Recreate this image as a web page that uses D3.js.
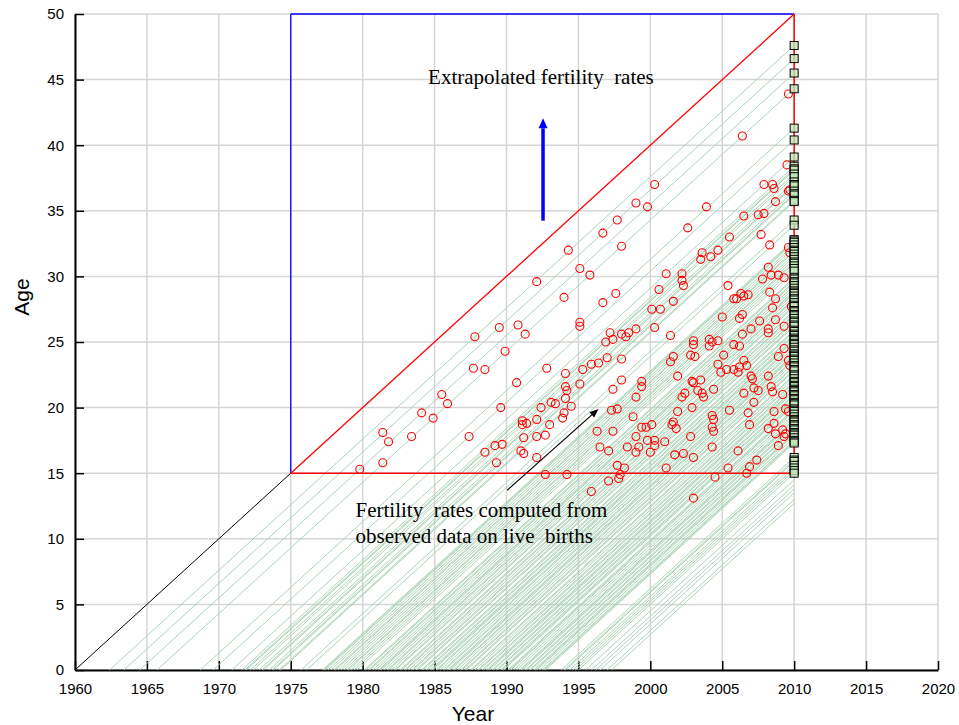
<!DOCTYPE html>
<html>
<head>
<meta charset="utf-8">
<script src="https://cdn.jsdelivr.net/npm/d3@7"></script>
<style>
body { margin: 0; background: #fff; }
svg { display: block; }
</style>
</head>
<body>
<script>

var yearTicks = [1960, 1965, 1970, 1975, 1980, 1985, 1990, 1995, 2000, 2005, 2010, 2015, 2020];
var ageTicks = [0, 5, 10, 15, 20, 25, 30, 35, 40, 45, 50];

// age of each woman in 2010 (end of her lifeline)
var ageIn2010 = [47.6, 46.6, 45.5, 44.3, 41.3, 40.4, 39.1, 38.4, 38.2, 38.1, 37.8, 37.6, 37.2, 37.0, 36.9,
    36.5, 36.3, 36.2, 35.8, 35.7, 34.3, 33.9, 32.8, 32.7, 32.6, 32.4, 32.2, 32.0, 31.9, 31.7, 31.5, 31.3,
    31.1, 31.0, 30.8, 30.6, 30.4, 29.9, 29.8, 29.6, 29.5, 29.3, 29.1, 28.9, 28.8, 28.7, 28.5, 28.3, 28.2,
    28.0, 27.8, 27.7, 27.4, 27.3, 27.1, 27.0, 26.8, 26.6, 26.5, 26.3, 26.2, 25.9, 25.8, 25.6, 25.5, 25.3,
    25.2, 25.1, 24.9, 24.8, 24.6, 24.4, 24.3, 24.1, 24.0, 23.9, 23.7, 23.6, 23.4, 23.2, 23.1, 22.9, 22.8,
    22.5, 22.4, 22.2, 22.0, 21.9, 21.7, 21.6, 21.4, 21.3, 21.2, 21.0, 20.9, 20.7, 20.6, 20.4, 20.3, 20.2,
    19.9, 19.8, 19.7, 19.5, 19.3, 19.1, 19.0, 18.9, 18.7, 18.6, 18.4, 18.3, 18.1, 18.0, 17.9, 17.7, 17.5,
    17.4, 17.3, 16.2, 16.0, 15.9, 15.6, 15.4, 15.2, 15.0, 14.5, 14.1, 13.8, 13.5, 13.0, 12.7];

// live births: [year, age of mother]
var births = [
    [1992.1, 29.6], [1994.0, 28.4], [1987.8, 25.4], [1989.5, 26.1], [1990.8, 26.3], [1991.3, 25.6],
    [1989.9, 24.3], [1987.7, 23.0], [1988.5, 22.9], [1992.8, 23.0], [1990.7, 21.9], [1994.1, 22.6],
    [1985.5, 21.0], [1985.9, 20.3], [1984.1, 19.6], [1984.9, 19.2], [1989.6, 20.0], [1981.4, 18.1],
    [1981.8, 17.4], [1983.4, 17.8], [1987.4, 17.8], [1981.4, 15.8], [1979.8, 15.3], [1988.5, 16.6],
    [1989.2, 17.1], [1989.7, 17.2], [1989.3, 15.8], [1991.0, 16.7], [1991.2, 16.5], [1992.1, 16.2],
    [1992.7, 14.9], [1994.2, 14.9], [1991.2, 17.7], [1992.1, 17.8], [1992.7, 17.9], [1993.0, 18.7],
    [1991.1, 19.0], [1991.1, 18.7], [1991.4, 18.8], [1992.1, 19.1], [1992.4, 20.0], [1993.1, 20.4],
    [1993.4, 20.3], [1994.0, 19.6], [1993.9, 19.2], [1994.1, 20.7], [1994.1, 21.6], [1994.2, 21.3],
    [1994.3, 32.0],
    [2000.3, 37.0], [2006.4, 40.7], [2009.6, 43.9], [2009.5, 38.5], [2007.9, 37.0], [2008.5, 37.0],
    [2008.6, 36.7], [2009.7, 36.6],
    [1999.0, 35.6], [1999.8, 35.3], [1997.7, 34.3], [1996.7, 33.3], [1998.0, 32.3], [1995.1, 30.6],
    [1995.8, 30.1], [1996.7, 28.0], [1997.6, 28.7], [2001.1, 30.2], [2000.6, 29.0], [2002.2, 30.2],
    [2002.2, 29.7], [2002.3, 29.3], [2000.1, 27.5], [2000.7, 27.5], [2001.6, 28.1], [1995.1, 26.5],
    [1995.1, 26.2], [1997.2, 25.7], [1998.0, 25.6], [1998.5, 25.7], [1999.0, 26.0], [2000.3, 26.1],
    [2001.4, 25.5],
    [2009.6, 36.5], [2003.9, 35.3], [2008.7, 35.7], [2006.5, 34.6], [2007.5, 34.7], [2007.9, 34.8],
    [2002.6, 33.7], [2005.5, 33.0], [2007.7, 33.2], [2008.3, 32.4], [2009.6, 32.2], [2009.7, 31.8],
    [2003.6, 31.8], [2003.5, 31.3], [2004.2, 31.5], [2004.7, 32.0], [2008.2, 30.7], [2008.4, 30.1],
    [2008.9, 30.1], [2009.3, 29.9], [2007.8, 29.8], [2005.4, 29.3], [2008.3, 28.8], [2008.7, 28.3],
    [2006.3, 28.7], [2005.8, 28.3], [2006.0, 28.3], [2006.5, 28.5], [2006.8, 28.6], [2008.5, 27.6],
    [2009.8, 27.7], [2005.0, 26.9], [2006.4, 27.1], [2006.2, 26.8], [2007.6, 26.6], [2008.7, 26.7],
    [2009.3, 26.2], [2007.0, 26.0], [2008.2, 26.0], [2008.2, 25.7], [2006.4, 25.6],
    [1997.4, 25.2], [1996.9, 25.0], [1998.3, 25.4], [2001.6, 23.9], [2001.4, 23.5], [1997.0, 23.8],
    [1998.0, 23.7], [1995.9, 23.3], [1996.4, 23.4], [1995.3, 22.9], [1995.1, 21.8], [2001.9, 22.4],
    [1998.0, 22.1], [1999.4, 22.0], [1999.4, 21.6], [1997.4, 21.4], [1999.0, 20.8], [2002.2, 20.8],
    [1994.5, 20.1], [1997.3, 19.8], [1997.7, 19.9], [2001.9, 19.7], [1998.8, 19.3], [2001.6, 18.9],
    [2001.5, 18.7], [2001.8, 18.4], [1999.4, 18.5], [1999.7, 18.5], [2000.1, 18.7], [1996.3, 18.2],
    [1997.4, 18.2], [1999.0, 17.8], [1999.8, 17.5], [2000.3, 17.5], [2000.3, 17.1], [2001.0, 17.4],
    [1996.5, 17.0], [1997.1, 16.7], [1998.4, 17.0], [1999.2, 17.0], [1999.0, 16.6], [2000.0, 16.6],
    [2001.7, 16.4], [1997.7, 15.6], [1998.2, 15.4], [2001.1, 15.4], [1997.9, 14.9], [1997.8, 14.6],
    [1997.1, 14.4], [1995.9, 13.6], [2003.0, 13.1],
    [2003.0, 25.1], [2003.0, 24.8], [2004.1, 25.2], [2004.3, 25.0], [2004.1, 24.7], [2004.7, 25.1],
    [2005.8, 24.8], [2006.2, 24.7], [2009.3, 24.5], [2008.9, 23.9], [2002.8, 24.0], [2003.1, 23.9],
    [2005.1, 24.0], [2006.5, 23.6], [2004.7, 23.3], [2005.3, 22.9], [2004.9, 22.7], [2005.8, 22.9],
    [2006.2, 23.1], [2006.7, 23.2], [2006.1, 22.7], [2009.6, 23.6], [2009.7, 23.2], [2007.0, 22.4],
    [2007.1, 22.2], [2008.2, 22.4], [2002.9, 22.0], [2003.0, 21.9], [2003.5, 22.1], [2003.3, 21.3],
    [2003.6, 21.1], [2003.7, 20.8], [2002.4, 21.1], [2004.4, 21.4], [2006.5, 21.1], [2007.2, 21.5],
    [2007.5, 21.3], [2008.4, 21.6], [2008.5, 21.2], [2009.2, 21.0], [2007.2, 20.4], [2002.9, 20.0],
    [2005.5, 19.8], [2006.8, 19.6], [2008.6, 19.7], [2009.4, 19.9], [2009.6, 19.7], [2004.3, 19.4],
    [2004.4, 19.1], [2006.9, 18.7], [2008.6, 18.8], [2004.3, 18.5], [2004.4, 18.2], [2008.2, 18.4],
    [2008.7, 18.0], [2009.2, 18.3], [2009.4, 18.0], [2009.3, 17.8], [2002.8, 17.8], [2004.3, 17.0],
    [2008.9, 17.1], [2006.1, 16.7], [2002.3, 16.5], [2003.0, 16.2], [2007.4, 16.0], [2006.9, 15.5],
    [2006.7, 15.0], [2005.4, 15.4], [2004.5, 14.7]
];

var width = 959, height = 725;

var x = d3.scaleLinear().domain([1960, 2020]).range([75, 938]);
var y = d3.scaleLinear().domain([0, 50]).range([670, 14]);

var svg = d3.select("body").append("svg")
    .attr("width", width)
    .attr("height", height)
    .style("font-family", "'Liberation Sans', Arial, sans-serif");

// grid
var grid = svg.append("g").attr("stroke", "#d6d6d6").attr("stroke-width", 1.5);

grid.selectAll("line.gx")
    .data(yearTicks)
    .join("line")
        .attr("class", "gx")
        .attr("x1", function (d) { return x(d); })
        .attr("x2", function (d) { return x(d); })
        .attr("y1", y(0))
        .attr("y2", y(50));

grid.selectAll("line.gy")
    .data(ageTicks)
    .join("line")
        .attr("class", "gy")
        .attr("x1", x(1960))
        .attr("x2", x(2020))
        .attr("y1", function (d) { return y(d); })
        .attr("y2", function (d) { return y(d); });

// axes
var xAxis = svg.append("g")
    .attr("transform", "translate(0," + y(0) + ")")
    .call(d3.axisBottom(x)
        .tickValues(yearTicks)
        .tickFormat(d3.format("d"))
        .tickSizeInner(-9)
        .tickSizeOuter(0)
        .tickPadding(13));

var yAxis = svg.append("g")
    .attr("transform", "translate(" + x(1960) + ",0)")
    .call(d3.axisLeft(y)
        .tickValues(ageTicks)
        .tickSizeInner(-9)
        .tickSizeOuter(0)
        .tickPadding(11));

[xAxis, yAxis].forEach(function (g) {
    g.select(".domain").attr("stroke", "#000").attr("stroke-width", 2);
    g.selectAll(".tick line").attr("stroke", "#000").attr("stroke-width", 1.5);
    g.selectAll(".tick text")
        .attr("fill", "#000")
        .style("font-size", "15px")
        .style("font-family", "'Liberation Sans', Arial, sans-serif");
});

// lifelines
svg.append("g")
    .selectAll("line")
    .data(ageIn2010)
    .join("line")
        .attr("x1", function (a) { return x(2010 - a); })
        .attr("y1", y(0))
        .attr("x2", x(2010))
        .attr("y2", function (a) { return y(a); })
        .attr("stroke", "#acd5b5")
        .attr("stroke-width", 1);

// observation frame
var seg = function (x1, y1, x2, y2, color, w) {
    svg.append("line")
        .attr("x1", x(x1)).attr("y1", y(y1))
        .attr("x2", x(x2)).attr("y2", y(y2))
        .attr("stroke", color)
        .attr("stroke-width", w);
};

seg(1960, 0, 1975, 15, "#000", 1);
seg(1975, 15, 1975, 50, "#0000ff", 1.3);
seg(1975, 50, 2010, 50, "#0000ff", 1.3);
seg(1975, 15, 2010, 50, "#ff0000", 1.3);
seg(1975, 15, 2010, 15, "#ff0000", 1.5);
seg(2010, 15, 2010, 50, "#ff0000", 1.5);

// births
svg.append("g")
    .selectAll("circle")
    .data(births)
    .join("circle")
        .attr("cx", function (d) { return x(d[0]); })
        .attr("cy", function (d) { return y(d[1]); })
        .attr("r", 4)
        .attr("fill", "none")
        .attr("stroke", "#ff0000")
        .attr("stroke-width", 1.1);

// women still in the frame in 2010
svg.append("g")
    .selectAll("rect")
    .data(ageIn2010.filter(function (a) { return a >= 14.9; }))
    .join("rect")
        .attr("x", x(2010) - 4)
        .attr("y", function (a) { return y(a) - 4; })
        .attr("width", 8)
        .attr("height", 8)
        .attr("fill", "#c2e6b6")
        .attr("fill-opacity", 0.8)
        .attr("stroke", "#000")
        .attr("stroke-width", 1);

// arrows
var arrow = function (x1, y1, x2, y2, color, w, headLen, headW) {
    var px1 = x(x1), py1 = y(y1), px2 = x(x2), py2 = y(y2);
    var dx = px2 - px1, dy = py2 - py1;
    var len = Math.sqrt(dx * dx + dy * dy);
    var ux = dx / len, uy = dy / len;
    var bx = px2 - ux * headLen, by = py2 - uy * headLen;

    svg.append("line")
        .attr("x1", px1).attr("y1", py1)
        .attr("x2", bx).attr("y2", by)
        .attr("stroke", color)
        .attr("stroke-width", w);

    svg.append("path")
        .attr("d", "M" + px2 + "," + py2 +
            "L" + (bx - uy * headW / 2) + "," + (by + ux * headW / 2) +
            "L" + (bx + uy * headW / 2) + "," + (by - ux * headW / 2) + "Z")
        .attr("fill", color);
};

arrow(1992.54, 34.25, 1992.54, 42.05, "#0000ff", 3.5, 10, 9);
arrow(1990.05, 13.7, 1996.4, 19.9, "#000", 1.2, 9, 7);

// annotations
var note = function (lines, xv, yv) {
    var t = svg.append("text")
        .attr("x", x(xv))
        .attr("y", y(yv))
        .attr("fill", "#000")
        .style("font-family", "'Liberation Serif', 'Times New Roman', serif")
        .style("font-size", "21px")
        .style("white-space", "pre");
    lines.forEach(function (s, i) {
        t.append("tspan")
            .attr("x", x(xv))
            .attr("dy", i === 0 ? 0 : 26)
            .text(s);
    });
};

note(["Extrapolated fertility  rates"], 1984.55, 44.7);
note(["Fertility  rates computed from", "observed data on live  births"], 1979.5, 11.65);

// axis titles
svg.append("text")
    .attr("x", 473)
    .attr("y", 721)
    .attr("text-anchor", "middle")
    .style("font-size", "21px")
    .text("Year");

svg.append("text")
    .attr("transform", "translate(29,297) rotate(-90)")
    .attr("text-anchor", "middle")
    .style("font-size", "21px")
    .text("Age");

</script>
</body>
</html>
